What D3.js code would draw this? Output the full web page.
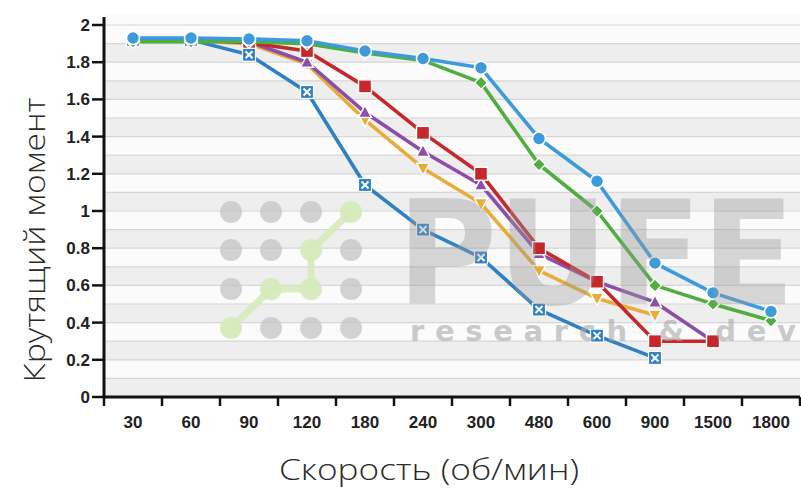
<!DOCTYPE html>
<html><head><meta charset="utf-8">
<script src="https://cdn.jsdelivr.net/npm/d3@7/dist/d3.min.js"></script>
<style>html,body{margin:0;padding:0;background:#fff;}svg{display:block;}</style>
</head><body><svg id="c" width="801" height="489"></svg>
<script>
const categories = ["30","60","90","120","180","240","300","480","600","900","1500","1800"];
const yTicks = [0,0.2,0.4,0.6,0.8,1,1.2,1.4,1.6,1.8,2];
const orangeVals = [1.915,1.915,1.9,1.79,1.49,1.23,1.04,0.68,0.53,0.44,null,null];
const purpleVals = [1.925,1.925,1.91,1.80,1.53,1.32,1.14,0.77,0.62,0.51,0.30,null];
const redVals    = [1.92,1.92,1.905,1.86,1.67,1.42,1.20,0.80,0.62,0.30,0.30,null];
const blueXVals  = [1.92,1.92,1.84,1.64,1.14,0.90,0.75,0.47,0.33,0.21,null,null];
const greenVals  = [1.91,1.91,1.91,1.90,1.85,1.81,1.69,1.25,1.00,0.60,0.50,0.41];
const cyanVals   = [1.93,1.93,1.925,1.915,1.86,1.82,1.77,1.39,1.16,0.72,0.56,0.46];
const series = [
  {name:"orange", values:orangeVals, color:"#e8ac3a", marker:"tridown"},
  {name:"purple", values:purpleVals, color:"#8c4ea6", marker:"triup"},
  {name:"red",    values:redVals,    color:"#c5282b", marker:"square"},
  {name:"blueX",  values:blueXVals,  color:"#2f80c4", marker:"xsquare"},
  {name:"green",  values:greenVals,  color:"#4fae3e", marker:"diamond"},
  {name:"cyan",   values:cyanVals,   color:"#3d9bdc", marker:"circle"}
];

const svg = d3.select("#c");
const X0 = 104, X1 = 800, Y0 = 397, Y2 = 25;
const x = d3.scaleBand().domain(categories).range([X0, X1]).padding(0);
const y = d3.scaleLinear().domain([0,2]).range([Y0, Y2]);

// background bands
const bg = svg.append("g");
bg.append("rect").attr("x",X0).attr("y",14).attr("width",X1-X0).attr("height",Y0-14).attr("fill","#fbfbfb");
const tenths = d3.range(0,20);
bg.selectAll("rect.band").data(tenths.filter(i=>i%2===0)).join("rect")
  .attr("x",X0).attr("width",X1-X0)
  .attr("y",d=>y((d+1)/10)).attr("height",d=>y(d/10)-y((d+1)/10))
  .attr("fill","#eeeeee");
bg.selectAll("line.g").data(d3.range(0,21)).join("line")
  .attr("x1",X0).attr("x2",X1).attr("y1",d=>y(d/10)).attr("y2",d=>y(d/10))
  .attr("stroke","#d6d6d6").attr("stroke-width",1.2);

// series
const line = d3.line().defined(d=>d.v!=null).x(d=>x(d.c)+x.bandwidth()/2).y(d=>y(d.v));
series.forEach(s=>{
  const pts = categories.map((c,i)=>({c, v:s.values[i]}));
  const g = svg.append("g");
  g.append("path").datum(pts).attr("d",line).attr("fill","none")
    .attr("stroke",s.color).attr("stroke-width",3.6).attr("stroke-linejoin","round");
  pts.filter(d=>d.v!=null).forEach(d=>{
    const cx = x(d.c)+x.bandwidth()/2, cy = y(d.v);
    const m = g.append("g").attr("transform",`translate(${cx},${cy})`);
    if (s.marker==="circle") {
      m.append("circle").attr("r",6.5).attr("fill",s.color).attr("stroke","#fff").attr("stroke-width",1.6);
    } else if (s.marker==="square") {
      m.append("rect").attr("x",-6.5).attr("y",-6.5).attr("width",13).attr("height",13).attr("fill",s.color).attr("stroke","#fff").attr("stroke-width",1.4);
    } else if (s.marker==="xsquare") {
      m.append("rect").attr("x",-6.5).attr("y",-6.5).attr("width",13).attr("height",13).attr("fill",s.color).attr("stroke","#fff").attr("stroke-width",1.2);
      m.append("path").attr("d","M-3.5,-3.5L3.5,3.5M-3.5,3.5L3.5,-3.5").attr("stroke","#fff").attr("stroke-width",2);
    } else if (s.marker==="diamond") {
      m.append("path").attr("d","M0,-6.5L6.5,0L0,6.5L-6.5,0Z").attr("fill",s.color).attr("stroke","#fff").attr("stroke-width",1.4);
    } else if (s.marker==="triup") {
      m.append("path").attr("d","M0,-7L6.5,5L-6.5,5Z").attr("fill",s.color).attr("stroke","#fff").attr("stroke-width",1.4);
    } else if (s.marker==="tridown") {
      m.append("path").attr("d","M0,7L6.5,-5L-6.5,-5Z").attr("fill",s.color).attr("stroke","#fff").attr("stroke-width",1.4);
    }
  });
});

// watermark
const wm = svg.append("g");
const dotX = [231,271,311,351], dotY = [212,250,289,328];
const greenDots = [[0,3],[1,2],[2,2],[2,1],[3,0]];
dotY.forEach((yy,r)=>dotX.forEach((xx,c)=>{
  const isG = greenDots.some(p=>p[0]===c&&p[1]===r);
  if(!isG) wm.append("circle").attr("cx",xx).attr("cy",yy).attr("r",11).attr("fill","#c4c4c4").attr("opacity",0.75);
}));
wm.append("path").attr("d",d3.line()(greenDots.map(p=>[dotX[p[0]],dotY[p[1]]])))
  .attr("fill","none").attr("stroke","#d6eabb").attr("stroke-width",7).attr("opacity",0.9);
greenDots.forEach(p=>wm.append("circle").attr("cx",dotX[p[0]]).attr("cy",dotY[p[1]]).attr("r",11).attr("fill","#d6eabb").attr("opacity",0.95));
wm.append("text").attr("x",397).attr("y",304).attr("textLength",398).attr("lengthAdjust","spacingAndGlyphs")
  .attr("font-family","DejaVu Sans").attr("font-weight","bold").attr("font-size",144)
  .attr("fill","#9a9a9a").attr("opacity",0.38).text("PUFE");
wm.append("text").attr("x",410).attr("y",341).attr("textLength",386).attr("lengthAdjust","spacing")
  .attr("font-family","DejaVu Sans").attr("font-weight","bold")
  .attr("font-size",29).attr("fill","#a8a8a8").attr("opacity",0.6).text("research & dev");

// axes
const ax = svg.append("g");
ax.append("line").attr("x1",X0).attr("x2",X0).attr("y1",Y2-8).attr("y2",Y0+1).attr("stroke","#111").attr("stroke-width",3);
ax.append("line").attr("x1",X0-1).attr("x2",X1).attr("y1",Y0).attr("y2",Y0).attr("stroke","#111").attr("stroke-width",3);
ax.selectAll("line.yt").data(yTicks).join("line")
  .attr("x1",X0-12).attr("x2",X0).attr("y1",d=>y(d)).attr("y2",d=>y(d)).attr("stroke","#111").attr("stroke-width",2.5);
ax.selectAll("text.yl").data(yTicks).join("text")
  .attr("x",X0-14).attr("y",d=>y(d)+6).attr("text-anchor","end")
  .attr("font-family","Liberation Sans, Arial, sans-serif").attr("font-weight","bold").attr("font-size",17).attr("fill","#222")
  .text(d=>d3.format("")(d));
ax.selectAll("line.xt").data(d3.range(0,categories.length+1)).join("line")
  .attr("x1",i=>X0+i*x.bandwidth()).attr("x2",i=>X0+i*x.bandwidth()).attr("y1",Y0).attr("y2",Y0+9)
  .attr("stroke","#111").attr("stroke-width",2.5);
ax.selectAll("text.xl").data(categories).join("text")
  .attr("x",d=>x(d)+x.bandwidth()/2).attr("y",428).attr("text-anchor","middle")
  .attr("font-family","Liberation Sans, Arial, sans-serif").attr("font-weight","bold").attr("font-size",17).attr("fill","#222")
  .text(d=>d);

svg.append("text").attr("transform","translate(45,240) rotate(-90)").attr("text-anchor","middle")
  .attr("font-family","Open Sans, sans-serif").attr("font-weight",300).attr("font-size",29).attr("fill","#2a2a2a")
  .attr("textLength",285).attr("lengthAdjust","spacingAndGlyphs")
  .text("Крутящий момент");
svg.append("text").attr("x",429).attr("y",480).attr("text-anchor","middle")
  .attr("font-family","Open Sans, sans-serif").attr("font-weight",300).attr("font-size",30).attr("fill","#2a2a2a")
  .attr("textLength",300).attr("lengthAdjust","spacingAndGlyphs")
  .text("Скорость (об/мин)");
</script></body></html>
